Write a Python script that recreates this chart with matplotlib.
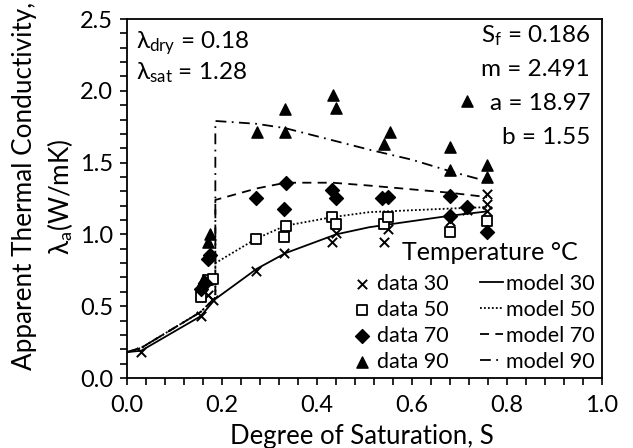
import matplotlib
matplotlib.use("Agg")
import matplotlib.pyplot as plt
from matplotlib.ticker import MultipleLocator

plt.rcParams['font.family'] = ['Lato', 'DejaVu Sans']
plt.rcParams['mathtext.fontset'] = 'custom'
plt.rcParams['mathtext.rm'] = 'Lato'
plt.rcParams['mathtext.it'] = 'Lato:italic'
plt.rcParams['mathtext.bf'] = 'Lato:bold'

# ---- data ----
s30 = [0.03, 0.155, 0.17, 0.18, 0.272, 0.33, 0.432, 0.44, 0.54, 0.55, 0.68, 0.716, 0.758, 0.758, 0.758]
k30 = [0.18, 0.43, 0.58, 0.54, 0.745, 0.87, 0.95, 1.01, 0.95, 1.04, 1.09, 1.17, 1.28, 1.21, 1.16]

s50 = [0.155, 0.17, 0.18, 0.272, 0.33, 0.334, 0.432, 0.44, 0.54, 0.55, 0.68, 0.758]
k50 = [0.565, 0.68, 0.69, 0.97, 0.98, 1.06, 1.12, 1.07, 1.07, 1.12, 1.02, 1.09]

s70 = [0.155, 0.165, 0.17, 0.175, 0.272, 0.33, 0.334, 0.432, 0.44, 0.537, 0.55, 0.68, 0.68, 0.716, 0.758]
k70 = [0.62, 0.66, 0.83, 0.86, 1.25, 1.18, 1.36, 1.31, 1.25, 1.25, 1.26, 1.27, 1.13, 1.19, 1.02]

s90 = [0.155, 0.16, 0.17, 0.175, 0.273, 0.333, 0.333, 0.434, 0.44, 0.54, 0.553, 0.68, 0.68, 0.716, 0.758, 0.758]
k90 = [0.65, 0.68, 0.95, 1.00, 1.71, 1.71, 1.87, 1.97, 1.88, 1.63, 1.71, 1.61, 1.45, 1.93, 1.48, 1.40]

m30_s = [0.0, 0.03, 0.155, 0.186, 0.273, 0.334, 0.44, 0.51, 0.68, 0.758]
m30_k = [0.18, 0.19, 0.43, 0.55, 0.76, 0.87, 1.00, 1.05, 1.13, 1.16]

m50_s = [0.0, 0.03, 0.155, 0.186, 0.186, 0.272, 0.333, 0.432, 0.51, 0.68, 0.758]
m50_k = [0.18, 0.21, 0.46, 0.56, 0.80, 0.97, 1.06, 1.12, 1.155, 1.18, 1.19]

m70_s = [0.0, 0.03, 0.155, 0.186, 0.186, 0.273, 0.334, 0.432, 0.51, 0.68, 0.758]
m70_k = [0.18, 0.21, 0.46, 0.56, 1.24, 1.32, 1.36, 1.36, 1.34, 1.29, 1.26]

m90_s = [0.0, 0.03, 0.155, 0.186, 0.186, 0.273, 0.333, 0.51, 0.6, 0.68, 0.758]
m90_k = [0.18, 0.21, 0.46, 0.56, 1.79, 1.77, 1.74, 1.59, 1.52, 1.44, 1.37]

xticks = [0.0, 0.2, 0.4, 0.6, 0.8, 1.0]
yticks = [0.0, 0.5, 1.0, 1.5, 2.0, 2.5]

params_left = ['λ$_{\\mathrm{dry}}$ = 0.18', 'λ$_{\\mathrm{sat}}$ = 1.28']
params_right = ['S$_{\\mathrm{f}}$ = 0.186', 'm = 2.491', 'a = 18.97', 'b = 1.55']

# ---- figure ----
W, H = 633, 448
fig = plt.figure(figsize=(W / 100, H / 100), dpi=100)
ax = fig.add_axes([127 / W, (H - 378) / H, 475 / W, 359 / H])

lw = 1.3
ax.plot(m30_s, m30_k, color='black', lw=lw, ls='-', label='model 30')
ax.plot(m50_s, m50_k, color='black', lw=lw, ls=(0, (1, 1.2)), label='model 50')
ax.plot(m70_s, m70_k, color='black', lw=lw, ls=(0, (5, 3.5)), label='model 70')
ax.plot(m90_s, m90_k, color='black', lw=lw, ls=(0, (6, 3, 1, 3)), label='model 90')

ax.scatter(s30, k30, marker='x', s=45, color='black', linewidths=1.4, label='data 30', zorder=3)
ax.scatter(s50, k50, marker='s', s=60, facecolors='white', edgecolors='black', linewidths=1.3, label='data 50', zorder=3)
ax.scatter(s70, k70, marker='D', s=50, color='black', label='data 70', zorder=3)
ax.scatter(s90, k90, marker='^', s=65, color='black', label='data 90', zorder=3)

ax.set_xlim(0, 1.0)
ax.set_ylim(0, 2.5)
ax.set_xticks(xticks)
ax.set_xticklabels([f"{v:.1f}" for v in xticks])
ax.set_yticks(yticks)
ax.set_yticklabels([f"{v:.1f}" for v in yticks])
ax.xaxis.set_minor_locator(MultipleLocator(0.04))
ax.yaxis.set_minor_locator(MultipleLocator(0.1))
ax.tick_params(which='both', direction='out', length=5, width=1.2, labelsize=17)
ax.tick_params(axis='x', pad=7)
ax.tick_params(axis='y', pad=5)
for sp in ax.spines.values():
    sp.set_linewidth(1.3)

# axis labels
fig.text(362 / W, 1 - 436 / H, 'Degree of Saturation, S', ha='center', va='center', fontsize=18.5)
fig.text(25 / W, 1 - 370 / H, 'Apparent Thermal Conductivity,', rotation=90,
         ha='center', va='bottom', fontsize=18.8)
fig.text(60 / W, 1 - 255 / H, 'λ$_{\\mathrm{a}}$(W/mK)', rotation=90,
         ha='center', va='bottom', fontsize=18.8)

# annotations
ax.text(0.019, 0.933, params_left[0], transform=ax.transAxes, fontsize=17.5, ha='left', va='center')
ax.text(0.019, 0.85, params_left[1], transform=ax.transAxes, fontsize=17.5, ha='left', va='center')
for i, t in enumerate(params_right):
    ax.text(0.975, 0.953 - i * 0.094, t, transform=ax.transAxes, fontsize=17.5, ha='right', va='center')

# legend: data column then model column
h, l = ax.get_legend_handles_labels()
order = ['data 30', 'data 50', 'data 70', 'data 90', 'model 30', 'model 50', 'model 70', 'model 90']
hd = dict(zip(l, h))
leg = ax.legend([hd[k] for k in order], order, ncol=2, loc='lower right',
                bbox_to_anchor=(0.99, 0.011), frameon=False, fontsize=15.5,
                handlelength=1.07, handletextpad=0.14, columnspacing=1.5,
                labelspacing=0.28, borderaxespad=0.0, borderpad=0.1)
ax.text((490 - 127) / 475, (378 - 253) / 359, 'Temperature °C', transform=ax.transAxes,
        fontsize=18, ha='center', va='center')

fig.savefig('out.png', dpi=100)
